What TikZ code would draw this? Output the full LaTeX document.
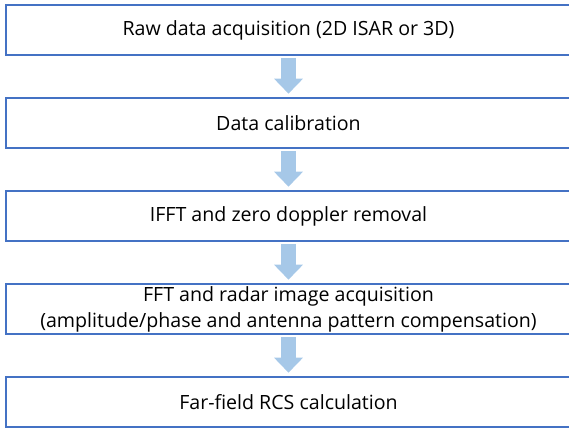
\documentclass[tikz,border=0pt]{standalone}
\usepackage{fontspec}
\setmainfont{Open Sans}
\usetikzlibrary{arrows.meta}
\definecolor{boxline}{HTML}{4472C4}
\definecolor{flowarrow}{HTML}{A6C8E8}
\begin{document}
\begin{tikzpicture}[x=1pt,y=-1pt,
  stepbox/.style={draw=boxline,line width=2.8pt,fill=white,minimum width=565pt,
    minimum height=50pt,inner sep=0pt,align=center,font=\fontsize{19.6}{26}\selectfont,outer sep=0pt},
  flow/.style={draw=flowarrow,line width=15pt,
    -{Triangle[width=28pt,length=15pt]},shorten <=3.3pt,shorten >=4.3pt}]
  \useasboundingbox (0,0) rectangle (569,430);
  \node[stepbox] (raw) at (288.5,30) {Raw data acquisition (2D ISAR or 3D)};
  \node[stepbox] (cal) at (288.5,123) {Data calibration};
  \node[stepbox] (ifft) at (288.5,216) {IFFT and zero doppler removal};
  \node[stepbox] (fft) at (288.5,309) {FFT and radar image acquisition\\(amplitude/phase and antenna pattern compensation)};
  \node[stepbox] (rcs) at (288.5,402) {Far-field RCS calculation};
  \draw[flow] (raw.south) -- (cal.north);
  \draw[flow] (cal.south) -- (ifft.north);
  \draw[flow] (ifft.south) -- (fft.north);
  \draw[flow] (fft.south) -- (rcs.north);
\end{tikzpicture}
\end{document}
